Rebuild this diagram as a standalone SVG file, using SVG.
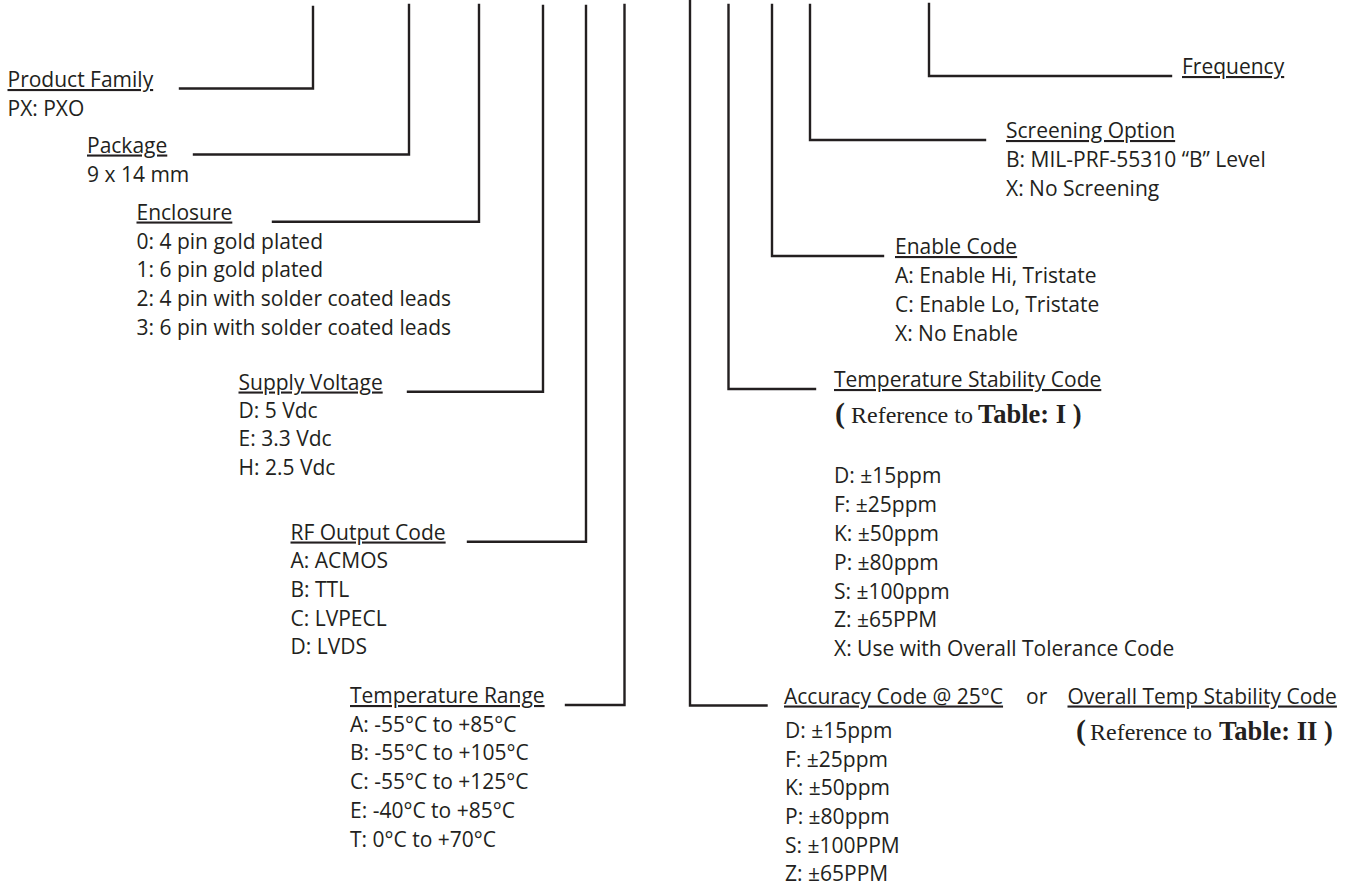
<svg xmlns="http://www.w3.org/2000/svg" width="1359" height="890" viewBox="0 0 1359 890">
<style>
text{font-family:"Open Sans","Noto Sans",sans-serif;font-size:21px;fill:#231f20}
.u{text-decoration:underline}
.ser{font-family:"Liberation Serif","Times New Roman",serif;font-size:24px}
.b{font-weight:bold;font-size:26.5px}
.p{font-weight:bold;font-size:30px}
#connectors path{stroke:#231f20;stroke-width:2.4;fill:none;stroke-linecap:square}
</style>
<rect width="1359" height="890" fill="#fff"/>
<g id="connectors">
<path d="M313,7 V88.5 H180"/>
<path d="M409,5 V154.5 H194"/>
<path d="M479,5 V221.7 H273"/>
<path d="M543,6 V391.7 H408"/>
<path d="M586,6 V541.7 H468"/>
<path d="M624.5,5 V705 H566"/>
<path d="M690,0 V705.5 H766.5"/>
<path d="M728.5,5 V389 H815"/>
<path d="M772,5 V256 H883"/>
<path d="M810,5 V140 H985"/>
<path d="M929,4 V76 H1171"/>
</g>
<g id="product-family"><text x="7.5" y="87" class="u">Product Family</text><text x="7.5" y="116">PX: PXO</text></g>
<g id="package"><text x="87" y="152.5" class="u">Package</text><text x="87" y="181.5">9 x 14 mm</text></g>
<g id="enclosure"><text x="136.5" y="219.5" class="u">Enclosure</text>
<text x="136.5" y="248.5">0: 4 pin gold plated</text><text x="136.5" y="277">1: 6 pin gold plated</text>
<text x="136.5" y="306">2: 4 pin with solder coated leads</text><text x="136.5" y="334.5">3: 6 pin with solder coated leads</text></g>
<g id="supply-voltage"><text x="238.5" y="389.5" class="u">Supply Voltage</text>
<text x="238.5" y="417.5">D: 5 Vdc</text><text x="238.5" y="446">E: 3.3 Vdc</text><text x="238.5" y="475">H: 2.5 Vdc</text></g>
<g id="rf-output"><text x="290.5" y="539.5" class="u">RF Output Code</text>
<text x="290.5" y="568.3">A: ACMOS</text><text x="290.5" y="597">B: TTL</text><text x="290.5" y="625.7">C: LVPECL</text><text x="290.5" y="654.3">D: LVDS</text></g>
<g id="temperature-range"><text x="350" y="703" class="u">Temperature Range</text>
<text x="350" y="731.7">A: -55°C to +85°C</text><text x="350" y="760.4">B: -55°C to +105°C</text><text x="350" y="789">C: -55°C to +125°C</text><text x="350" y="817.8">E: -40°C to +85°C</text><text x="350" y="846.5">T: 0°C to +70°C</text></g>
<g id="frequency"><text x="1182" y="74" class="u">Frequency</text></g>
<g id="screening"><text x="1006" y="138" class="u">Screening Option</text>
<text x="1006" y="167">B: MIL-PRF-55310 “B” Level</text><text x="1006" y="196">X: No Screening</text></g>
<g id="enable"><text x="895" y="254" class="u">Enable Code</text>
<text x="895" y="283">A: Enable Hi, Tristate</text><text x="895" y="312">C: Enable Lo, Tristate</text><text x="895" y="341">X: No Enable</text></g>
<g id="temp-stability"><text x="834" y="387" class="u">Temperature Stability Code</text>
<text y="423" class="ser"><tspan x="835" class="p">(</tspan><tspan x="851">Reference to</tspan><tspan x="978" class="b">Table: I )</tspan></text>
<text x="834" y="483">D: ±15ppm</text><text x="834" y="512">F: ±25ppm</text><text x="834" y="541">K: ±50ppm</text><text x="834" y="570">P: ±80ppm</text><text x="834" y="599">S: ±100ppm</text><text x="834" y="627">Z: ±65PPM</text><text x="834" y="656">X: Use with Overall Tolerance Code</text></g>
<g id="accuracy"><text x="784" y="703.5" class="u">Accuracy Code @ 25°C</text><text x="1026" y="703.5">or</text><text x="1067.5" y="703.5" class="u">Overall Temp Stability Code</text>
<text y="740" class="ser"><tspan x="1076" class="p">(</tspan><tspan x="1090">Reference to</tspan><tspan x="1219" class="b">Table: II )</tspan></text>
<text x="785" y="738">D: ±15ppm</text><text x="785" y="767">F: ±25ppm</text><text x="785" y="795">K: ±50ppm</text><text x="785" y="824">P: ±80ppm</text><text x="785" y="852.5">S: ±100PPM</text><text x="785" y="880.5">Z: ±65PPM</text></g>
</svg>
